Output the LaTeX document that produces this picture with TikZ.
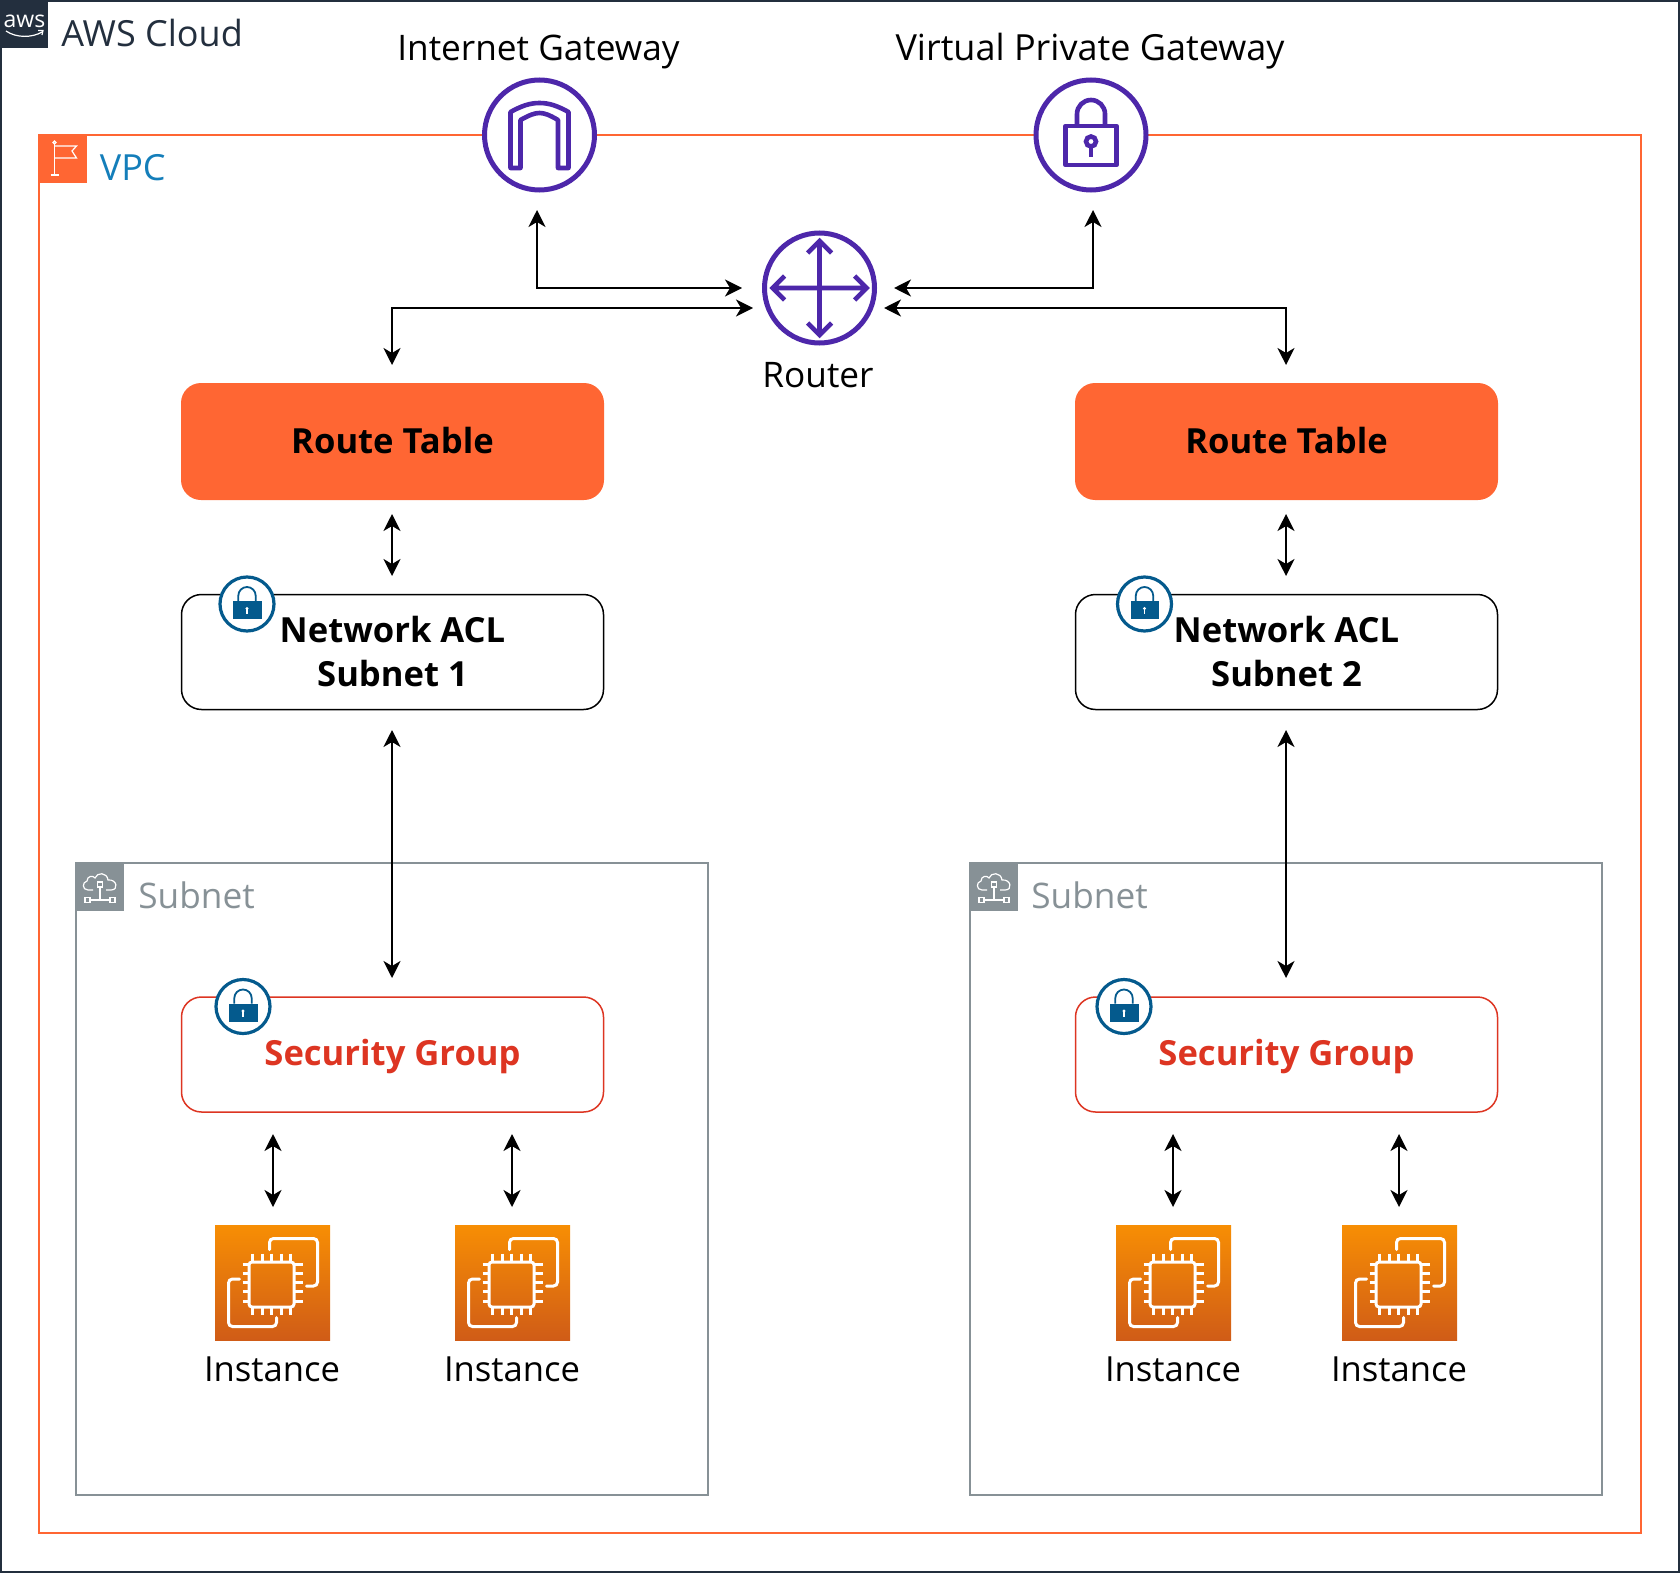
\documentclass[tikz,border=0pt]{standalone}
\usepackage{fontspec}
\setmainfont{Open Sans}
\usetikzlibrary{arrows.meta}
\definecolor{awsdark}{HTML}{232F3E}
\definecolor{vpcorange}{HTML}{FF6633}
\definecolor{vpcblue}{HTML}{147EBA}
\definecolor{subgrey}{HTML}{879196}
\definecolor{sgred}{HTML}{DD3522}
\definecolor{iconpurple}{HTML}{4D27AA}
\definecolor{badgeblue}{HTML}{045A8D}
\definecolor{ectop}{HTML}{F78E04}
\definecolor{ecbot}{HTML}{D05C17}
\tikzset{
  biarrow/.style={draw=black,line width=1pt,{Stealth[length=8.5pt,width=8.5pt,inset=2.5pt]}-{Stealth[length=8.5pt,width=8.5pt,inset=2.5pt]}},
  labeltext/.style={font=\fontsize{18}{22}\selectfont,inner sep=0pt,align=center},
  midtext/.style={font=\fontsize{17.6}{22}\selectfont,inner sep=0pt,align=center},
  smalltext/.style={font=\fontsize{17.3}{22}\selectfont,inner sep=0pt,align=center},
  boldtext/.style={font=\fontsize{17.3}{22}\selectfont\bfseries,inner sep=0pt,align=center},
  routebox/.style={fill=vpcorange,rounded corners=10pt,minimum width=211.5pt,minimum height=58.5pt,inner sep=0pt,boldtext},
  aclbox/.style={draw=black,fill=white,line width=0.75pt,rounded corners=10pt,minimum width=211pt,minimum height=57.5pt,inner sep=0pt,boldtext},
  sgbox/.style={draw=sgred,fill=white,line width=0.75pt,rounded corners=10pt,minimum width=211pt,minimum height=57.5pt,inner sep=0pt,boldtext,text=sgred,text height=15pt,text depth=3.8pt},
  iconring/.style={circle,draw=iconpurple,fill=white,line width=2.5pt,minimum size=55pt,inner sep=0pt},
  badgering/.style={circle,draw=badgeblue,fill=white,line width=1.6pt,minimum size=27pt,inner sep=0pt},
  ecbox/.style={top color=ectop,bottom color=ecbot,minimum size=57.5pt,inner sep=0pt},
  tagbox/.style={minimum size=24pt,inner sep=0pt},
  pics/archicon/.style={code={
    \draw[iconpurple,line width=2.3pt,line join=round]
      (-29,33)--(-29,-23) .. controls (-18,-29) and (-10,-32) .. (0,-32)
      .. controls (10,-32) and (18,-29) .. (29,-23) -- (29,33) -- (18.5,33) -- (18.5,-15)
      .. controls (10,-20) and (5,-22) .. (0,-22) .. controls (-5,-22) and (-10,-20) .. (-19,-15)
      -- (-19,33) -- cycle;
  }},
  pics/padlockicon/.style={code={
    \draw[iconpurple,line width=2.3pt,line join=round] (-25.5,-9) rectangle (25.5,30);
    \draw[iconpurple,line width=2.3pt] (-14,-9) -- (-14,-21) arc[start angle=180,end angle=360,x radius=14,y radius=14] -- (14,-9);
    \draw[iconpurple,line width=2.3pt] (0,6.5) circle[radius=5];
    \draw[iconpurple,line width=2.3pt] (0,11.5) -- (0,22);
  }},
  pics/crossicon/.style={code={
    \draw[iconpurple,line width=2.3pt,line join=miter]
      (-46,0)--(46,0) (0,-46)--(0,46)
      (-35,-12)--(-47,0)--(-35,12) (35,-12)--(47,0)--(35,12)
      (-12,-35)--(0,-47)--(12,-35) (-12,35)--(0,47)--(12,35);
  }},
  pics/badgelock/.style={code={
    \fill[badgeblue] (-14,-3) rectangle (14.5,15);
    \draw[badgeblue,line width=0.9pt] (-8.7,-3) -- (-8.7,-8.3) arc[start angle=180,end angle=360,x radius=8.7,y radius=8.7] -- (8.7,-3);
    \fill[white] (0,4.5) circle[radius=1.7];
    \fill[white] (-0.6,4.5) rectangle (0.6,10);
  }},
  pics/chipicon/.style={code={
    \begin{scope}[white,line width=1.5pt]
      \draw[rounded corners=1.5pt] (-23.5,-20.5) rectangle (21.5,24.5);
      \foreach \p in {-19.8,-10.2,-0.8,8.5,18.2} {
        \draw (\p,-29)--(\p,-20.5);
        \draw (\p,24.5)--(\p,32);
      }
      \foreach \p in {-18.5,-9,0,9,19} {
        \draw (-30,\p)--(-23.5,\p);
        \draw (21.5,\p)--(30,\p);
      }
      \draw[rounded corners=2pt,line cap=round] (-3,-33)--(-3,-44)--(45,-44)--(45,3.5)--(34,3.5);
      \draw[rounded corners=2pt,line cap=round] (-33,-3.5)--(-44,-3.5)--(-44,44)--(4,44)--(4,35);
    \end{scope}
  }},
  pics/cloudnet/.style={code={
    \begin{scope}[white,line width=0.6pt]
      \draw (-7,5) -- (-12,5) .. controls (-18,5) and (-18,-3) .. (-13,-4)
        .. controls (-13,-9) and (-7,-10) .. (-5,-7)
        .. controls (-3,-13) and (7,-13) .. (8,-5)
        .. controls (17,-6) and (19,5) .. (11,5) -- (6,5);
      \draw (-2.5,-3) rectangle (2.5,2);
      \draw (0,2)--(0,15);
      \draw (-10,15)--(10,15);
      \draw (-15,12.5) rectangle (-10,17.5);
      \draw (10,12.5) rectangle (15,17.5);
    \end{scope}
  }},
  pics/flagmark/.style={code={
    \begin{scope}[white,line width=0.6pt]
      \draw (0,-26)--(0,5);
      \draw (-4,5)--(4,5);
      \draw (0,-24)--(22,-24)--(17.5,-19)--(22,-12)--(0,-12);
      \draw (0,-27.5) circle[radius=1.5];
    \end{scope}
  }},
  pics/awssmile/.style={code={
    \draw[white,line width=0.6pt] (-18,7) .. controls (-8,14) and (8,14) .. (18,8);
    \draw[white,line width=0.6pt] (14,6.5)--(19,6.5)--(18,11);
  }}
}
\begin{document}
\begin{tikzpicture}[x=0.5pt,y=-0.5pt]
\useasboundingbox (0,0) rectangle (1680,1573);
% containers
\node[draw=awsdark,line width=1pt,minimum width=839pt,minimum height=785.5pt,inner sep=0pt] (cloud) at (840,786.5) {};
\node[draw=vpcorange,line width=0.75pt,minimum width=801pt,minimum height=699pt,inner sep=0pt] (vpc) at (840,834) {};
\node[draw=subgrey,line width=1pt,minimum width=316pt,minimum height=316pt,inner sep=0pt] (subnetA) at (392,1179) {};
\node[draw=subgrey,line width=1pt,minimum width=316pt,minimum height=316pt,inner sep=0pt] (subnetB) at (1286,1179) {};
% corner tags
\node[fill=awsdark,tagbox] (awstag) at (24,24) {};
\node[font=\fontsize{11.5}{12}\selectfont,text=white,inner sep=0pt] (awsword) at (24.5,21) {aws};
\pic at (24,24) {awssmile};
\node[labeltext,text=awsdark,anchor=west] (awslabel) at (61,33) {AWS Cloud};
\node[fill=vpcorange,tagbox] (vpctag) at (63,159) {};
\pic at (54.5,170) {flagmark};
\node[labeltext,text=vpcblue,anchor=west] (vpclabel) at (99.5,168) {VPC};
\node[fill=subgrey,tagbox] (subtagA) at (100,887) {};
\pic at (100,885) {cloudnet};
\node[midtext,text=subgrey,anchor=west] (sublabelA) at (138,895) {Subnet};
\node[fill=subgrey,tagbox] (subtagB) at (994,887) {};
\pic at (994,885) {cloudnet};
\node[midtext,text=subgrey,anchor=west] (sublabelB) at (1031,895) {Subnet};
% gateways
\node[iconring] (igw) at (539.5,135) {};
\pic at (539.5,135) {archicon};
\node[midtext] (igwlabel) at (538.5,51.5) {Internet Gateway};
\node[iconring] (vpg) at (1091,135) {};
\pic at (1091,135) {padlockicon};
\node[labeltext] (vpglabel) at (1090,51.5) {Virtual Private Gateway};
\node[iconring] (router) at (819.5,288) {};
\pic at (819.5,288) {crossicon};
\node[midtext] (routerlabel) at (818,375) {Router};
% boxes
\node[routebox] (rtA) at (392.5,441.5) {\raisebox{1pt}{Route Table}};
\node[routebox] (rtB) at (1286.5,441.5) {\raisebox{1pt}{Route Table}};
\node[aclbox] (aclA) at (392.5,652) {\raisebox{0.5pt}{Network ACL}\\\raisebox{0.5pt}{Subnet 1}};
\node[aclbox] (aclB) at (1286.5,652) {\raisebox{0.5pt}{Network ACL}\\\raisebox{0.5pt}{Subnet 2}};
\node[sgbox] (sgA) at (392.5,1054.5) {Security Group};
\node[sgbox] (sgB) at (1286.5,1054.5) {Security Group};
\node[badgering] (badgeAclA) at (247,604) {};
\pic at (247,604) {badgelock};
\node[badgering] (badgeAclB) at (1144.5,604) {};
\pic at (1144.5,604) {badgelock};
\node[badgering] (badgeSgA) at (243,1006.5) {};
\pic at (243,1006.5) {badgelock};
\node[badgering] (badgeSgB) at (1124,1006.5) {};
\pic at (1124,1006.5) {badgelock};
% instances
\foreach \nm/\xx in {iA/272.5,iB/512.5,iC/1173.5,iD/1399.5} {
  \node[ecbox] (\nm) at (\xx,1282.5) {};
  \pic at (\xx,1282.5) {chipicon};
  \node[smalltext] (\nm label) at (\xx-0.5,1369) {Instance};
}
% connector ends
\coordinate (igwend) at (537,210);
\coordinate (vpgend) at (1093,210);
\coordinate (rIgw) at (742,288);
\coordinate (rVpg) at (894,288);
\coordinate (rA) at (753,308);
\coordinate (rB) at (884,308);
\coordinate (rtAtop) at (392,365);
\coordinate (rtBtop) at (1286,365);
\coordinate (rtAbot) at (392,514);
\coordinate (rtBbot) at (1286,514);
\coordinate (aclAtop) at (392,576);
\coordinate (aclBtop) at (1286,576);
\coordinate (aclAbot) at (392,730);
\coordinate (aclBbot) at (1286,730);
\coordinate (sgAtop) at (392,978);
\coordinate (sgBtop) at (1286,978);
\foreach \nm/\xx in {iA/273,iB/512,iC/1173,iD/1399} {
  \coordinate (\nm up) at (\xx,1134);
  \coordinate (\nm dn) at (\xx,1207);
}
% connectors
\draw[biarrow] (igwend) |- (rIgw);
\draw[biarrow] (vpgend) |- (rVpg);
\draw[biarrow] (rtAtop) |- (rA);
\draw[biarrow] (rtBtop) |- (rB);
\draw[biarrow] (rtAbot) -- (aclAtop);
\draw[biarrow] (rtBbot) -- (aclBtop);
\draw[biarrow] (aclAbot) -- (sgAtop);
\draw[biarrow] (aclBbot) -- (sgBtop);
\foreach \nm in {iA,iB,iC,iD} {
  \draw[biarrow] (\nm up) -- (\nm dn);
}
\end{tikzpicture}
\end{document}
